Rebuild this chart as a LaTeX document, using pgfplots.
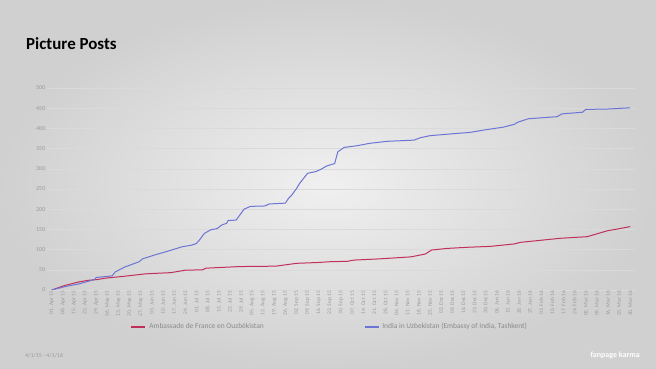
\documentclass[border=0pt]{standalone}
\usepackage{fontspec}
\setmainfont{Carlito}
\usepackage{pgfplots}
\pgfplotsset{compat=1.18}
\definecolor{franceRed}{HTML}{C0305A}
\definecolor{indiaBlue}{HTML}{6C74D4}
\definecolor{tickgray}{HTML}{9A9A9A}
\definecolor{legendgray}{HTML}{8A8A8A}
\definecolor{bginner}{HTML}{F0F0F0}
\definecolor{bgouter}{HTML}{D0D0D0}
\definecolor{gridgray}{HTML}{DADADA}
\begin{document}
\begin{tikzpicture}
\useasboundingbox (0,0) rectangle (656bp,369bp);
\shade[inner color=bginner, outer color=bgouter] (0,0) rectangle (656bp,369bp);
\node[anchor=base west, inner sep=0pt, font=\fontsize{17}{20}\selectfont\bfseries] at (26bp,319bp) {Picture Posts};
\node[anchor=base west, inner sep=0pt, font=\fontsize{6}{7}\selectfont, text=tickgray] at (25bp,12bp) {4/1/15 - 4/1/16};
\node[anchor=base east, inner sep=0pt, font=\fontsize{8}{9}\selectfont\bfseries, text=white] at (640bp,12bp) {fanpage karma};
\begin{axis}[
  at={(47bp,79bp)}, anchor=south west,
  scale only axis, width=588bp, height=202bp,
  xmin=-3, xmax=367, ymin=0, ymax=500,
  ytick={0,50,...,500},
  xtick={0,7,...,364},
  xticklabels={01. Apr 15,08. Apr 15,15. Apr 15,22. Apr 15,29. Apr 15,06. May 15,13. May 15,20. May 15,27. May 15,03. Jun 15,10. Jun 15,17. Jun 15,24. Jun 15,01. Jul 15,08. Jul 15,15. Jul 15,22. Jul 15,29. Jul 15,05. Aug 15,12. Aug 15,19. Aug 15,26. Aug 15,02. Sep 15,09. Sep 15,16. Sep 15,23. Sep 15,30. Sep 15,07. Oct 15,14. Oct 15,21. Oct 15,28. Oct 15,04. Nov 15,11. Nov 15,18. Nov 15,25. Nov 15,02. Dec15,09. Dec15,16. Dec15,23. Dec15,30. Dec15,06. Jan 16,13. Jan 16,20. Jan 16,27. Jan 16,03. Feb 16,10. Feb 16,17. Feb 16,24. Feb 16,02. Mar 16,09. Mar 16,16. Mar 16,23. Mar 16,30. Mar 16},
  x tick label style={rotate=90, anchor=east, font=\fontsize{5.5}{6}\selectfont, text=tickgray, inner sep=1pt},
  y tick label style={font=\fontsize{6}{7}\selectfont, text=tickgray, inner sep=1.5pt},
  /pgf/number format/assume math mode=true,
  major tick length=0pt,
  axis line style={draw=none},
  ymajorgrids, major grid style={gridgray, line width=0.5bp},
  legend columns=2,
  legend style={at={(0.481,-0.183)}, anchor=center, draw=none, fill=none,
    font=\fontsize{7.5}{9}\selectfont, text=legendgray,
    /tikz/every even column/.append style={column sep=98bp},
    inner sep=0pt, column sep=1bp},
  legend image code/.code={\draw[#1, line width=1.6bp] (0bp,0bp) -- (14bp,0bp);},
]
\addplot[franceRed, line width=1bp] coordinates {
(0,0) (8,11) (17,20) (23,24) (29,26) (33,29) (48,35) (59,40) (75,43) (84,49) (95,50) (97,54) (118,58) (141,59) (154,66) (167,68) (171,69) (175,70) (186,71) (190,74) (206,77) (226,82) (235,89) (239,99) (249,103) (263,106) (276,108) (291,114) (295,118) (320,128) (337,132) (343,139) (350,147) (356,151) (364,157)
};
\addlegendentry{Ambassade de France en Ouzbékistan}
\addplot[indiaBlue, line width=1bp] coordinates {
(0,0) (8,8) (17,15) (27,26) (28,31) (38,35) (40,45) (46,57) (55,70) (57,77) (65,87) (73,96) (82,107) (88,111) (91,115) (93,124) (96,140) (100,149) (104,152) (107,161) (110,165) (111,172) (116,173) (121,200) (125,207) (134,208) (137,213) (147,215) (149,227) (151,235) (154,251) (156,264) (161,289) (166,293) (169,298) (173,307) (178,313) (180,342) (184,353) (192,357) (200,363) (211,368) (228,371) (232,377) (238,382) (253,387) (263,390) (272,396) (284,403) (291,410) (293,415) (300,424) (318,429) (321,436) (334,440) (336,447) (350,448) (364,451)
};
\addlegendentry{India in Uzbekistan (Embassy of India, Tashkent)}
\end{axis}
\end{tikzpicture}
\end{document}
